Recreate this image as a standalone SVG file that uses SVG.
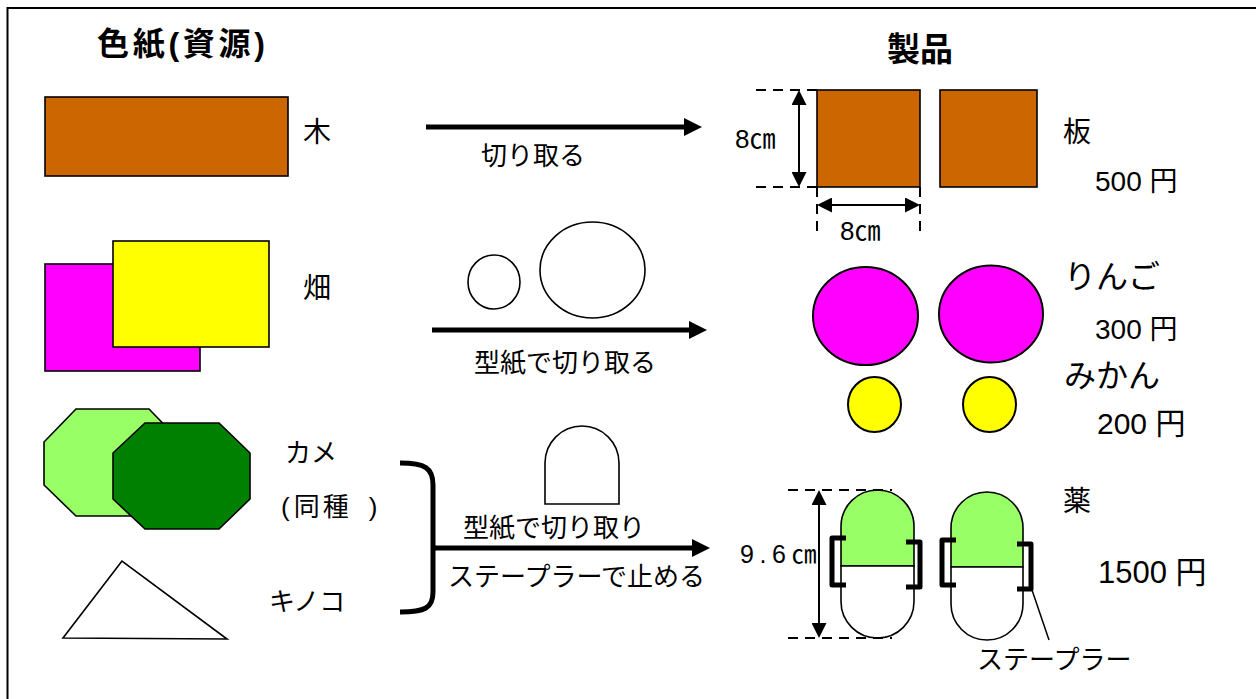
<svg xmlns="http://www.w3.org/2000/svg" width="1256" height="699" viewBox="0 0 1256 699">
<style>
.t{font-family:"Liberation Sans","Noto Sans CJK JP",sans-serif;fill:#000}
.cj{font-family:"Noto Sans CJK JP",sans-serif}
.b{font-weight:bold}
.sh{stroke:#000;stroke-width:1.6}
.dash{stroke:#000;stroke-width:2;stroke-dasharray:10,7;fill:none}
.thick{stroke:#000;stroke-width:5;fill:none}
.dim{stroke:#000;stroke-width:2;fill:none}
.br{stroke:#000;stroke-width:5;fill:none;stroke-linejoin:round}
</style>
<defs>
<marker id="ah" markerUnits="userSpaceOnUse" markerWidth="18" markerHeight="18" refX="0" refY="9" orient="auto"><path d="M0,0 L18,9 L0,18 z" fill="#000"/></marker>
<marker id="dh" markerUnits="userSpaceOnUse" markerWidth="15" markerHeight="15" refX="0" refY="7.5" orient="auto-start-reverse"><path d="M0,0 L15,7.5 L0,15 z" fill="#000"/></marker>
</defs>
<rect x="0" y="0" width="1256" height="699" fill="#fff"/>
<rect x="7.5" y="8" width="1300" height="800" fill="none" stroke="#000" stroke-width="2"/>

<g id="titles">
<text class="t b" x="97" y="55" font-size="32" textLength="168" lengthAdjust="spacing">色紙(資源)</text>
<text class="t b" x="887" y="61" font-size="33">製品</text>
</g>

<g id="wood">
<rect x="45" y="97" width="243" height="79" fill="#CC6600" class="sh"/>
<text class="t" x="303" y="142" font-size="28">木</text>
</g>

<g id="field">
<rect x="45" y="264" width="155" height="107" fill="#FF00FF" class="sh"/>
<rect x="113" y="241" width="156" height="106" fill="#FFFF00" class="sh"/>
<text class="t" x="303" y="298" font-size="28">畑</text>
</g>

<g id="turtle">
<polygon points="76,409 149,409 181,442 181,485 149,516 76,516 44,485 44,442" fill="#99FF66" class="sh"/>
<polygon points="145,423 219,423 250,453 250,499 219,529 145,529 113,499 113,453" fill="#008000" class="sh"/>
<text class="t" x="285" y="462" font-size="26">カメ</text>
<text class="t" x="281" y="516" font-size="26">(<tspan dx="4">同</tspan><tspan dx="3">種</tspan><tspan dx="20">)</tspan></text>
</g>

<g id="mushroom">
<polygon points="122,561 63,638 227,639" fill="#fff" class="sh"/>
<text class="t" x="269" y="611" font-size="26">キノコ</text>
</g>

<g id="templates">
<ellipse cx="494" cy="282" rx="26" ry="27" fill="#fff" class="sh"/>
<ellipse cx="592.5" cy="270" rx="52.5" ry="48" fill="#fff" class="sh"/>
<path d="M545,504 L545,463 A37,37 0 0 1 619,463 L619,504 Z" fill="#fff" class="sh"/>
</g>

<g id="connectors">
<line x1="426" y1="127" x2="684" y2="127" class="thick" marker-end="url(#ah)"/>
<line x1="432" y1="330" x2="689" y2="330" class="thick" marker-end="url(#ah)"/>
<path d="M400,463 C425,463 433,468 433,485 L433,592 C433,608 425,612 400,612" class="thick"/>
<line x1="433" y1="548" x2="692" y2="548" class="thick" marker-end="url(#ah)"/>
<text class="t" x="481" y="165" font-size="26">切り取る</text>
<text class="t" x="474" y="372" font-size="26">型紙で切り取る</text>
<text class="t" x="463" y="537" font-size="26">型紙で切り取り</text>
<text class="t" x="448" y="586" font-size="26">ステープラーで止める</text>
</g>

<g id="board">
<rect x="817" y="90" width="103" height="97" fill="#CC6600" class="sh"/>
<rect x="940" y="90" width="97" height="97" fill="#CC6600" class="sh"/>
<line x1="756" y1="90" x2="817" y2="90" class="dash"/>
<line x1="756" y1="187" x2="817" y2="187" class="dash"/>
<line x1="817" y1="187" x2="817" y2="236" class="dash"/>
<line x1="920" y1="187" x2="920" y2="236" class="dash"/>
<line x1="799" y1="105" x2="799" y2="172" class="dim" marker-start="url(#dh)" marker-end="url(#dh)"/>
<line x1="832" y1="205" x2="905" y2="205" class="dim" marker-start="url(#dh)" marker-end="url(#dh)"/>
<text class="t" x="735" y="148" font-size="26">8<tspan class="cj">㎝</tspan></text>
<text class="t" x="840" y="240" font-size="26">8<tspan class="cj">㎝</tspan></text>
<text class="t" x="1063" y="142" font-size="28">板</text>
<text class="t" x="1095" y="191" font-size="28">500 円</text>
</g>

<g id="fruits">
<ellipse cx="865.5" cy="316" rx="52.5" ry="49" fill="#FF00FF" stroke="#000" stroke-width="2"/>
<ellipse cx="991" cy="314" rx="52" ry="48.5" fill="#FF00FF" stroke="#000" stroke-width="2"/>
<ellipse cx="874.5" cy="404.5" rx="26.5" ry="27.5" fill="#FFFF00" stroke="#000" stroke-width="2"/>
<ellipse cx="989.5" cy="404.5" rx="26.5" ry="27.5" fill="#FFFF00" stroke="#000" stroke-width="2"/>
<text class="t" x="1064" y="288" font-size="32">りんご</text>
<text class="t" x="1095" y="339" font-size="28">300 円</text>
<text class="t" x="1064" y="387" font-size="32">みかん</text>
<text class="t" x="1097" y="434" font-size="30">200 円</text>
</g>

<g id="medicine">
<path d="M841,566 L841,526.5 A36.5,36.5 0 0 1 914,526.5 L914,566 Z" fill="#99FF66" class="sh"/>
<path d="M841,566 L841,601.5 A36.5,36.5 0 0 0 914,601.5 L914,566 Z" fill="#fff" class="sh"/>
<path d="M951,567 L951,528 A36,36 0 0 1 1023,528 L1023,567 Z" fill="#99FF66" class="sh"/>
<path d="M951,567 L951,604 A36,36 0 0 0 1023,604 L1023,567 Z" fill="#fff" class="sh"/>
<path d="M846,538 L832,538 L832,585 L846,585" class="br"/>
<path d="M906,542 L920,542 L920,587 L906,587" class="br"/>
<path d="M956,540 L942,540 L942,585 L956,585" class="br"/>
<path d="M1017,544 L1031,544 L1031,589 L1017,589" class="br"/>
<line x1="1032" y1="590" x2="1049" y2="640" stroke="#000" stroke-width="1.5"/>
<line x1="788" y1="490" x2="892" y2="490" class="dash"/>
<line x1="788" y1="638" x2="892" y2="638" class="dash"/>
<line x1="819" y1="505" x2="819" y2="623" class="dim" marker-start="url(#dh)" marker-end="url(#dh)"/>
<text class="t" x="740" y="563" font-size="25"><tspan textLength="46" lengthAdjust="spacing">9.6</tspan><tspan class="cj">㎝</tspan></text>
<text class="t" x="977" y="669" font-size="26">ステープラー</text>
<text class="t" x="1063" y="511" font-size="28">薬</text>
<text class="t" x="1098" y="583" font-size="31">1500 円</text>
</g>
</svg>
